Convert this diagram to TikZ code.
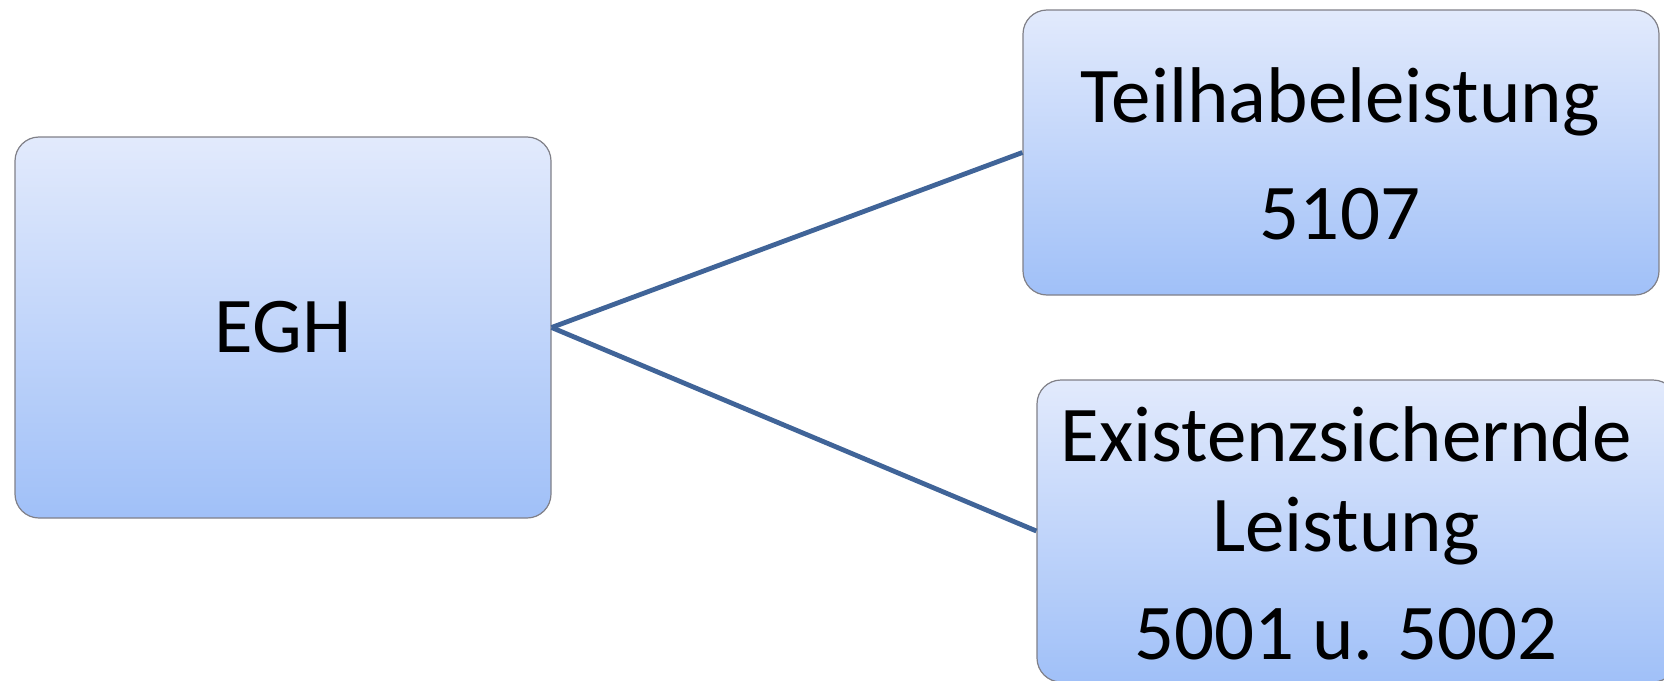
\documentclass[tikz,border=0pt]{standalone}
\usepackage{fontspec}
\setmainfont{Carlito}
\definecolor{boxtop}{RGB}{226,234,252}
\definecolor{boxbot}{RGB}{160,192,248}
\definecolor{boxline}{RGB}{128,128,136}
\definecolor{conn}{RGB}{64,100,152}
\tikzset{
  smbox/.style={rectangle, rounded corners=12pt, draw=boxline, line width=0.6pt,
    top color=boxtop, bottom color=boxbot, inner sep=0pt},
  lbl/.style={anchor=base, inner sep=0pt, font=\fontsize{39.5}{46}\selectfont, text=black},
  link/.style={draw=conn, line width=2.4pt}
}
\begin{document}
\begin{tikzpicture}[x=0.5pt, y=-0.5pt]
\useasboundingbox (0,0) rectangle (1664,680);
% boxes
\node[smbox, minimum width=268pt, minimum height=190.5pt] (egh) at (283,327.5) {};
\node[smbox, minimum width=318pt, minimum height=142.5pt] (teil) at (1341,152.5) {};
\node[smbox, minimum width=320pt, minimum height=151pt] (exist) at (1357,531) {};
% connectors
\draw[link] (egh.east) -- (teil.west);
\draw[link] (egh.east) -- (exist.west);
% texts
\node[lbl] (eghT) at (283,352) {EGH};
\node[lbl] (teilA) at (1340,122) {Teilhabeleistung};
\node[lbl] (teilB) at (1340,239) {5107};
\node[lbl] (exA) at (1346,461) {Existenzsichernde};
\node[lbl] (exB) at (1346,551) {Leistung};
\node[lbl] (exC) at (1346,659) {5001 u. 5002};
\end{tikzpicture}
\end{document}
